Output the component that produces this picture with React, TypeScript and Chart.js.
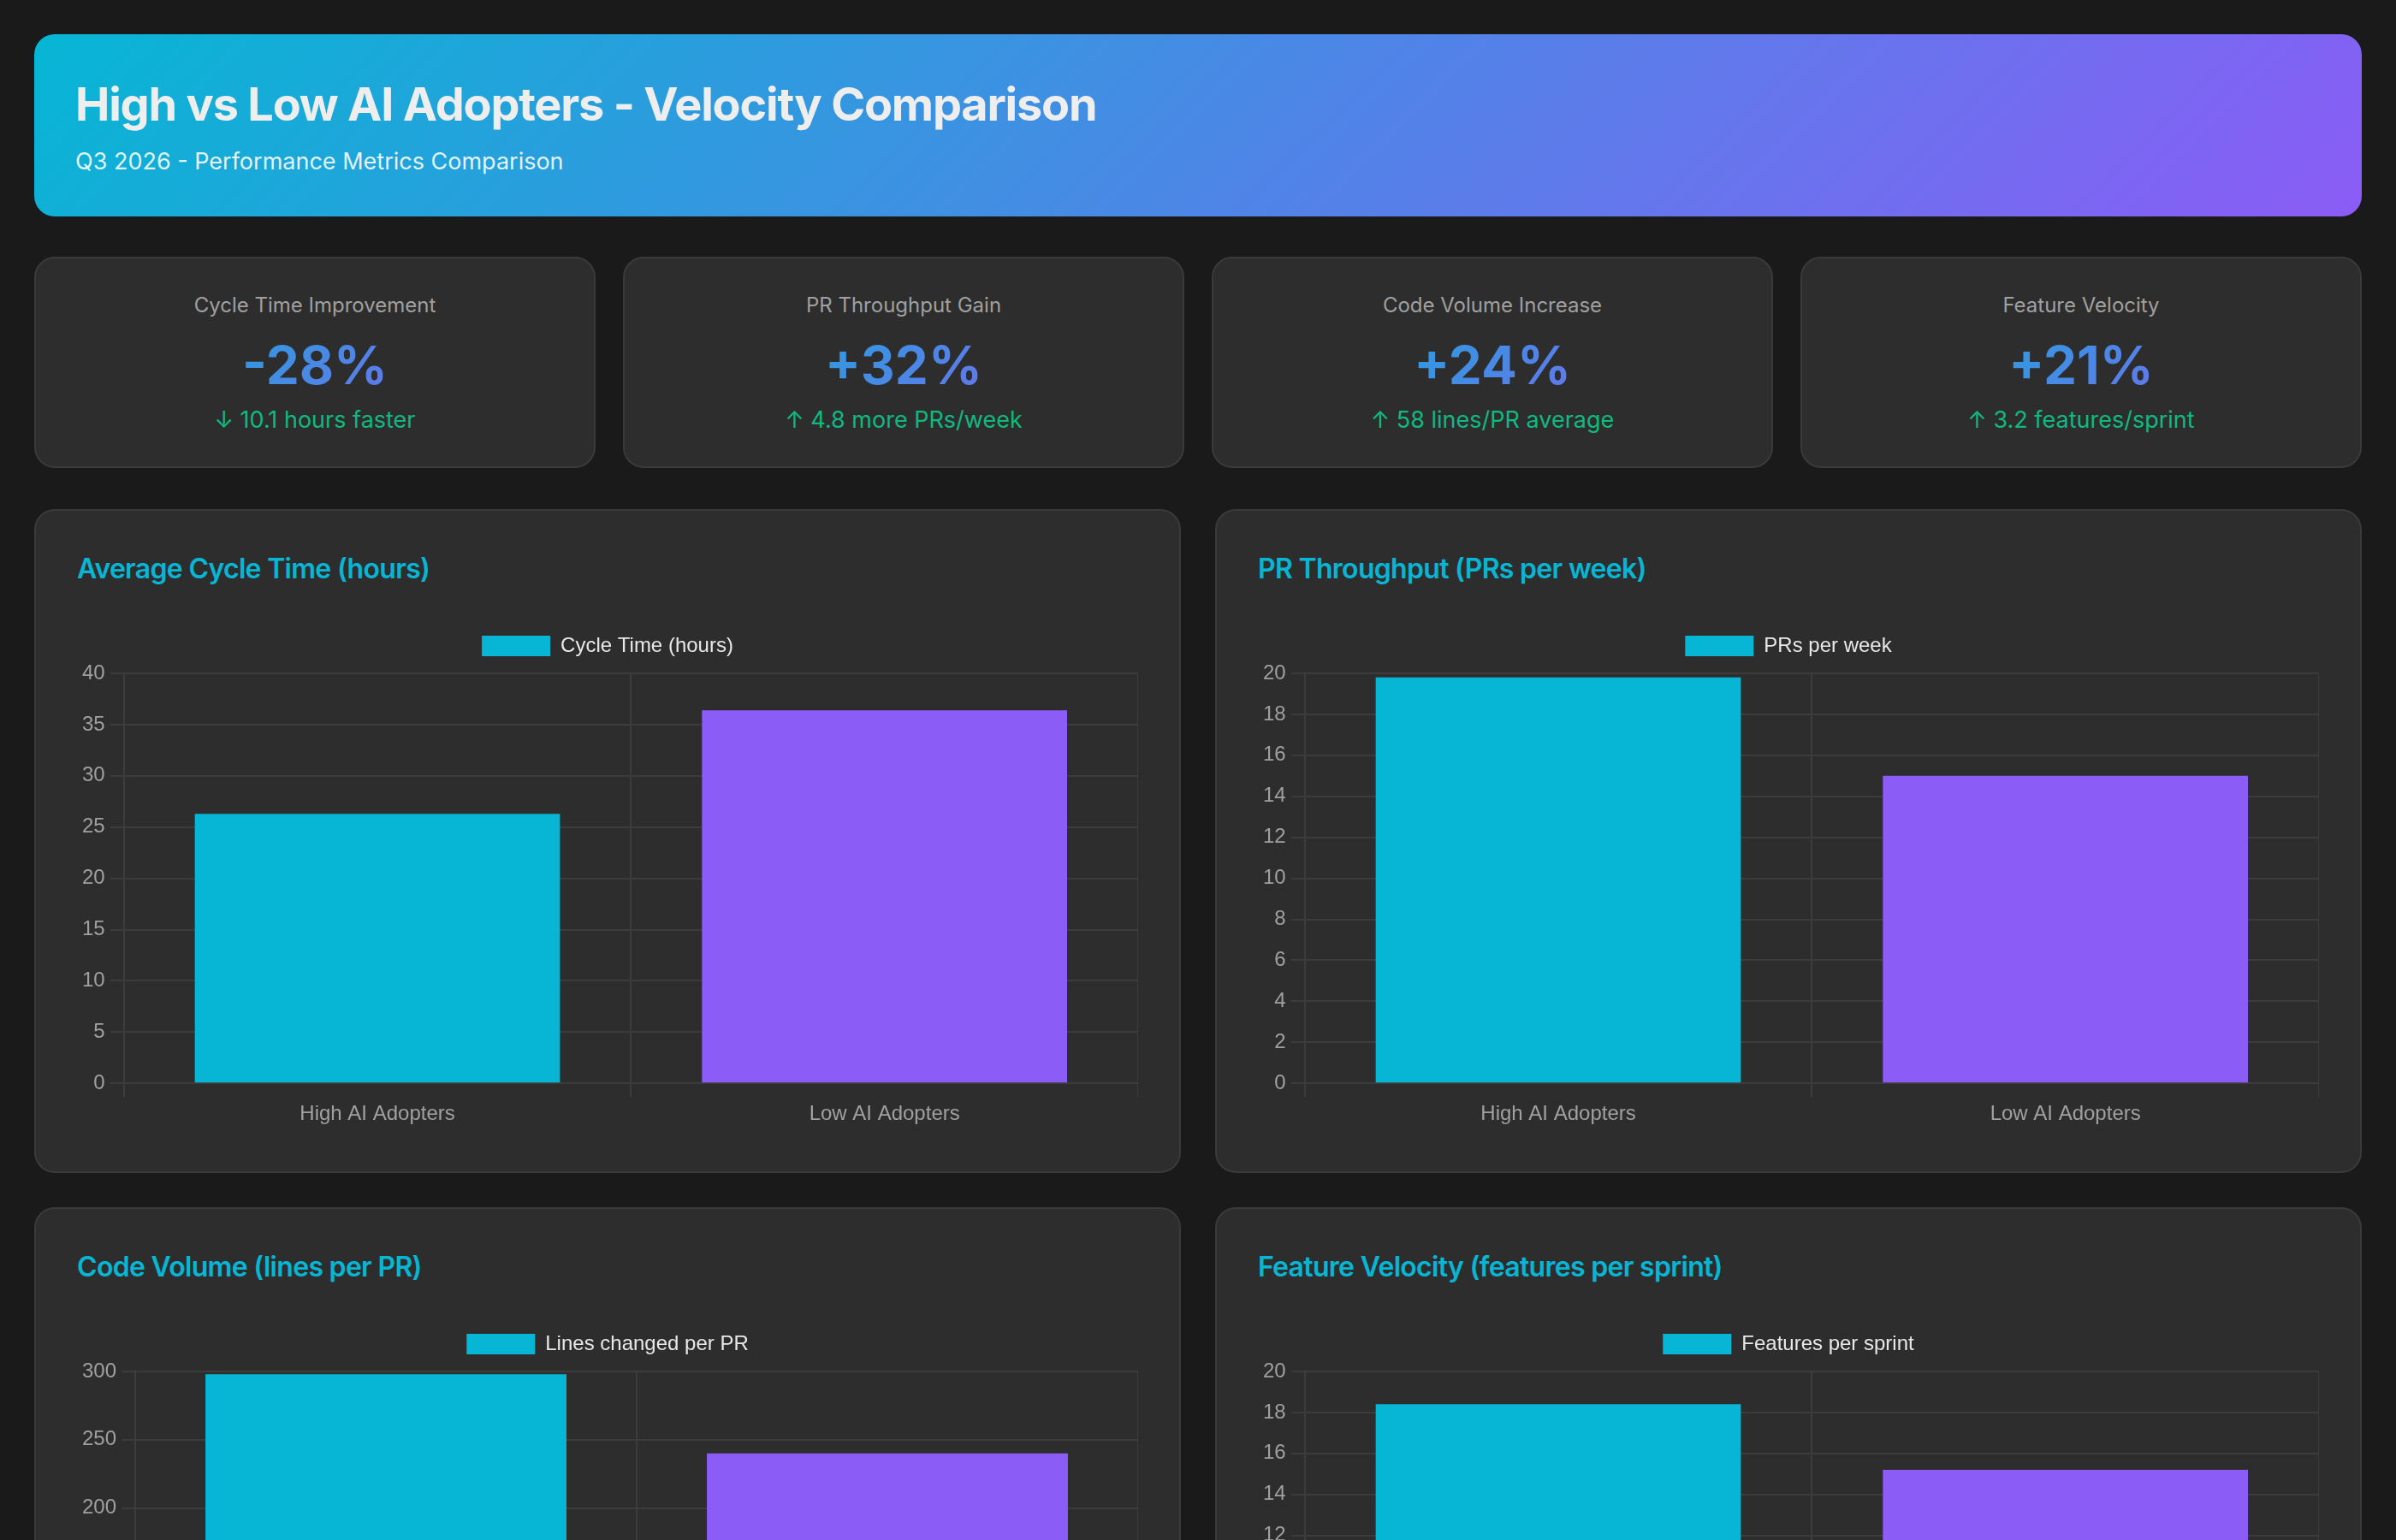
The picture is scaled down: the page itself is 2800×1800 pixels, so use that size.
import React, { useEffect, useRef } from "react";
import { Chart, registerables } from "chart.js";

Chart.register(...registerables);

// ---- data ----
const groups = ["High AI Adopters", "Low AI Adopters"];
const cycleTimeHours = [26.3, 36.4];
const prsPerWeek = [19.8, 15.0];
const linesPerPR = [298, 240];
const featuresPerSprint = [18.4, 15.2];

const kpiTitles = ["Cycle Time Improvement", "PR Throughput Gain", "Code Volume Increase", "Feature Velocity"];
const kpiValues = ["-28%", "+32%", "+24%", "+21%"];
const kpiNotes = ["↓ 10.1 hours faster", "↑ 4.8 more PRs/week", "↑ 58 lines/PR average", "↑ 3.2 features/sprint"];

// ---- styling ----
const CYAN = "#06b6d4";
const PURPLE = "#8b5cf6";
const barColors = [CYAN, PURPLE];
const GRID = "#3c3c3c";
const TICK = "#a0a0a0";
const CHART_FONT = "'Liberation Sans', Arial, Helvetica, sans-serif";
const UI_FONT = "Inter, 'Noto Sans', 'DejaVu Sans', sans-serif";

// The legend adds a fixed 10px under its row; everything else here is drawn at
// double size, so add the other 10px to keep the gap proportional.
const legendGap = {
  id: "legendGap",
  afterInit(chart: any) {
    const legend = chart.legend;
    if (!legend || legend.__gapPatched) return;
    const fit = legend.fit;
    legend.fit = function (this: any) {
      fit.call(this);
      this.height += 10;
    };
    legend.__gapPatched = true;
  },
};

type BarProps = { title: string; label: string; values: number[] };

function BarCard({ title, label, values }: BarProps) {
  const canvasRef = useRef<HTMLCanvasElement | null>(null);

  useEffect(() => {
    if (!canvasRef.current) return;
    const font = { family: CHART_FONT, size: 24 };
    const chart = new Chart(canvasRef.current, {
      type: "bar",
      data: {
        labels: groups,
        datasets: [
          {
            label,
            data: values,
            backgroundColor: barColors,
            borderColor: barColors,
            borderWidth: 0,
          },
        ],
      },
      plugins: [legendGap],
      options: {
        animation: false,
        responsive: true,
        maintainAspectRatio: false,
        plugins: {
          legend: {
            display: true,
            labels: { color: "#e8e8e8", boxWidth: 80, padding: 20, font },
          },
          tooltip: { enabled: false },
        },
        scales: {
          x: {
            ticks: { color: TICK, padding: 6, font },
            grid: { color: GRID, lineWidth: 2, tickLength: 16 },
            border: { color: GRID, width: 2 },
          },
          y: {
            beginAtZero: true,
            ticks: { color: TICK, padding: 6, font },
            grid: { color: GRID, lineWidth: 2, tickLength: 16 },
            border: { color: GRID, width: 2 },
          },
        },
      },
    });
    return () => chart.destroy();
  }, [label, values]);

  return (
    <div
      style={{
        background: "#2d2d2d",
        border: "2px solid #3a3a3a",
        borderRadius: 24,
        padding: "48px 48px 46px 48px",
        boxSizing: "border-box",
      }}
    >
      <h3
        style={{
          margin: "0 0 38px 0",
          fontFamily: UI_FONT,
          fontSize: 32,
          lineHeight: "40px",
          fontWeight: 600,
          letterSpacing: -0.7,
          color: CYAN,
        }}
      >
        {title}
      </h3>
      <div style={{ position: "relative", height: 600 }}>
        <canvas ref={canvasRef} />
      </div>
    </div>
  );
}

function KpiCard({ title, value, note }: { title: string; value: string; note: string }) {
  return (
    <div
      style={{
        background: "#2d2d2d",
        border: "2px solid #3a3a3a",
        borderRadius: 24,
        padding: "40px 40px",
        height: 247,
        boxSizing: "border-box",
        textAlign: "center",
        fontFamily: UI_FONT,
      }}
    >
      <div style={{ fontSize: 24, lineHeight: "30px", color: "#a0a0a0" }}>{title}</div>
      <div
        style={{
          marginTop: 17,
          fontSize: 62,
          lineHeight: "76px",
          fontWeight: 700,
          background: `linear-gradient(135deg, ${CYAN}, ${PURPLE})`,
          WebkitBackgroundClip: "text",
          backgroundClip: "text",
          WebkitTextFillColor: "transparent",
          color: "transparent",
        }}
      >
        {value}
      </div>
      <div style={{ marginTop: 10, fontSize: 27, lineHeight: "32px", color: "#10b981" }}>{note}</div>
    </div>
  );
}

export default function App() {
  return (
    <div
      style={{
        position: "fixed",
        inset: 0,
        overflow: "hidden",
        background: "#1a1a1a",
        padding: 40,
        boxSizing: "border-box",
        fontFamily: UI_FONT,
      }}
    >
      <div
        style={{
          background: `linear-gradient(135deg, ${CYAN} 0%, ${PURPLE} 100%)`,
          borderRadius: 24,
          padding: 48,
          boxSizing: "border-box",
        }}
      >
        <h1
          style={{
            margin: 0,
            fontSize: 54,
            lineHeight: "68px",
            fontWeight: 700,
            color: "#eeeeee",
            letterSpacing: -1.2,
          }}
        >
          High vs Low AI Adopters - Velocity Comparison
        </h1>
        <p
          style={{
            margin: "17px 0 0 0",
            fontSize: 27,
            lineHeight: "32px",
            color: "rgba(255,255,255,0.88)",
          }}
        >
          Q3 2026 - Performance Metrics Comparison
        </p>
      </div>

      <div
        style={{
          display: "grid",
          gridTemplateColumns: "repeat(4, 1fr)",
          gap: 32,
          marginTop: 47,
        }}
      >
        {kpiTitles.map((t, i) => (
          <KpiCard key={t} title={t} value={kpiValues[i]} note={kpiNotes[i]} />
        ))}
      </div>

      <div
        style={{
          display: "grid",
          gridTemplateColumns: "1fr 1fr",
          gap: 40,
          marginTop: 48,
        }}
      >
        <BarCard title="Average Cycle Time (hours)" label="Cycle Time (hours)" values={cycleTimeHours} />
        <BarCard title="PR Throughput (PRs per week)" label="PRs per week" values={prsPerWeek} />
        <BarCard title="Code Volume (lines per PR)" label="Lines changed per PR" values={linesPerPR} />
        <BarCard title="Feature Velocity (features per sprint)" label="Features per sprint" values={featuresPerSprint} />
      </div>
    </div>
  );
}
